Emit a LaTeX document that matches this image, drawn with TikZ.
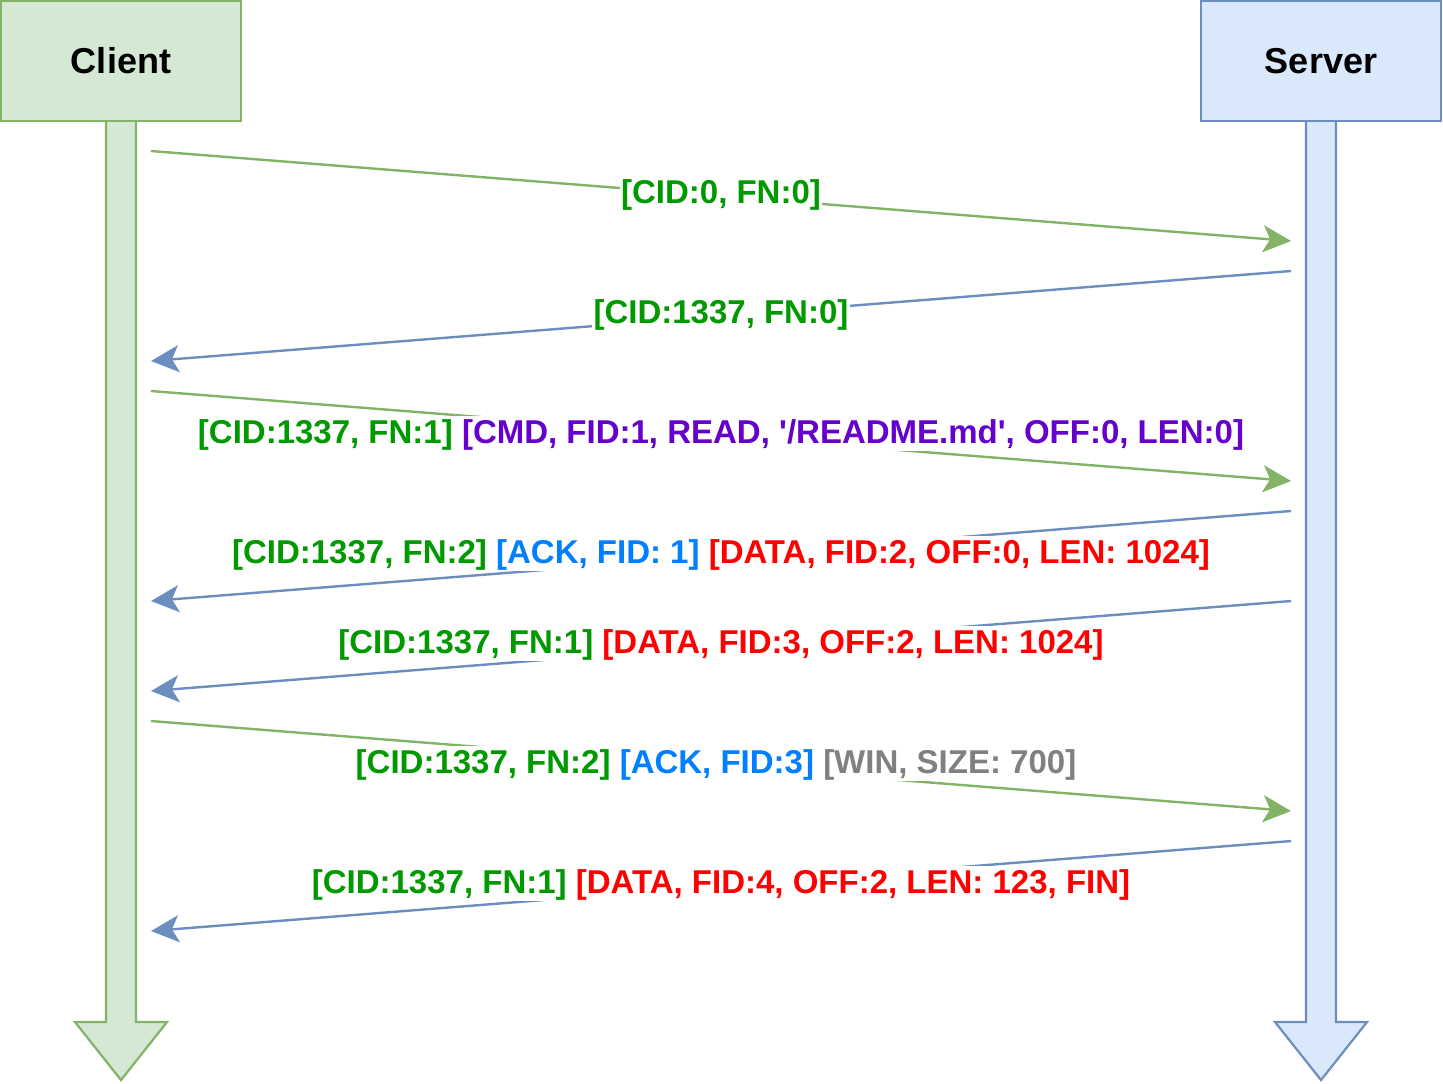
\documentclass[tikz,border=0pt]{standalone}
\usepackage{fontspec}
\setmainfont{Liberation Sans}
\usetikzlibrary{arrows.meta}
\definecolor{clientfill}{HTML}{D5E8D4}
\definecolor{clientline}{HTML}{82B366}
\definecolor{serverfill}{HTML}{DAE8FC}
\definecolor{serverline}{HTML}{6C8EBF}
\definecolor{txtgreen}{HTML}{009900}
\definecolor{txtpurple}{HTML}{6600CC}
\definecolor{txtblue}{HTML}{007FFF}
\definecolor{txtred}{HTML}{FF0000}
\definecolor{txtgray}{HTML}{808080}
\newcommand{\hdr}[1]{\textcolor{txtgreen}{#1}}
\begin{document}
\begin{tikzpicture}[x=0.5pt, y=-0.5pt,
        party/.style={draw, line width=1.1pt, minimum width=120pt, minimum height=60pt,
            font=\bfseries\fontsize{18}{21}\selectfont},
        life/.style={line width=1.1pt, line join=miter},
        msg/.style={line width=1.2pt, -{Stealth[length=14pt, width=13.5pt, inset=3.5pt]}},
        lbl/.style={fill=white, inner sep=0.6pt, text height=13.4pt, text depth=3.2pt, yshift=1.2pt,
            font=\bfseries\fontsize{16.5}{19}\selectfont}]
    \useasboundingbox (0,0) rectangle (1443,1083);
    % lifelines
    \draw[life, draw=clientline, fill=clientfill] (106,100) -- (106,1022) -- (75,1022) -- (121,1080)
        -- (167,1022) -- (136,1022) -- (136,100) -- cycle;
    \draw[life, draw=serverline, fill=serverfill] (1306,100) -- (1306,1022) -- (1275,1022) -- (1321,1080)
        -- (1367,1022) -- (1336,1022) -- (1336,100) -- cycle;
    \node[party, draw=clientline, fill=clientfill] (client) at (121,61) {Client};
    \node[party, draw=serverline, fill=serverfill] (server) at (1321,61) {Server};
    % message ends
    \foreach \n/\cy/\sy in {1/151/241, 3/391/481, 6/721/811} {
        \coordinate (c\n) at (151,\cy);
        \coordinate (s\n) at (1291,\sy);
    }
    \foreach \n/\sy/\cy in {2/271/361, 4/511/601, 5/601/691, 7/841/931} {
        \coordinate (s\n) at (1291,\sy);
        \coordinate (c\n) at (151,\cy);
    }
    % messages
    \draw[msg, clientline] (c1) -- node[lbl] {\hdr{[CID:0, FN:0]}} (s1);
    \draw[msg, serverline] (s2) -- node[lbl] {\hdr{[CID:1337, FN:0]}} (c2);
    \draw[msg, clientline] (c3) -- node[lbl] {\hdr{[CID:1337, FN:1]}
        \textcolor{txtpurple}{[CMD, FID:1, READ, \textquotesingle/README.md\textquotesingle, OFF:0, LEN:0]}} (s3);
    \draw[msg, serverline] (s4) -- node[lbl] {\hdr{[CID:1337, FN:2]}
        \textcolor{txtblue}{[ACK, FID: 1]} \textcolor{txtred}{[DATA, FID:2, OFF:0, LEN: 1024]}} (c4);
    \draw[msg, serverline] (s5) -- node[lbl] {\hdr{[CID:1337, FN:1]}
        \textcolor{txtred}{[DATA, FID:3, OFF:2, LEN: 1024]}} (c5);
    \draw[msg, clientline] (c6) -- node[lbl, xshift=-2.5pt] {\hdr{[CID:1337, FN:2]}
        \textcolor{txtblue}{[ACK, FID:3]} \textcolor{txtgray}{[WIN, SIZE: 700]}} (s6);
    \draw[msg, serverline] (s7) -- node[lbl] {\hdr{[CID:1337, FN:1]}
        \textcolor{txtred}{[DATA, FID:4, OFF:2, LEN: 123, FIN]}} (c7);
\end{tikzpicture}
\end{document}
